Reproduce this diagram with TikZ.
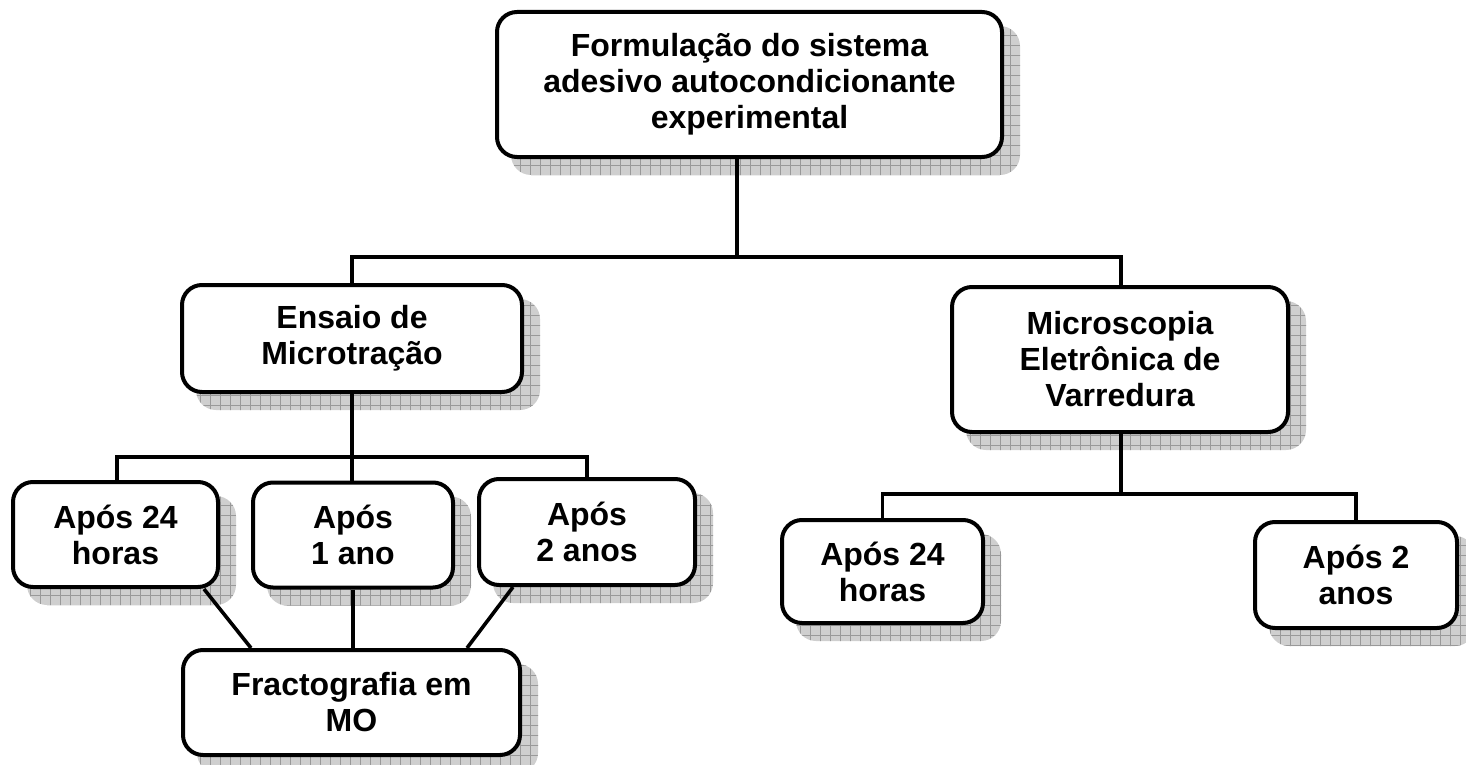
\documentclass[tikz,border=0pt]{standalone}
\usepackage{fontspec}
\setmainfont{Liberation Sans}
\usetikzlibrary{patterns.meta,backgrounds}
\begin{document}
\begin{tikzpicture}[x=0.5pt,y=-0.5pt,
  box/.style={draw, line width=2pt, rounded corners=10pt, fill=white, align=center,
    font=\fontsize{16}{18}\selectfont\bfseries, inner sep=0pt},
  shad/.style={rounded corners=10pt, fill=gray!38,
    postaction={pattern={Lines[distance=5pt,angle=0,line width=0.3pt]}, pattern color=gray!80},
    postaction={pattern={Lines[distance=5pt,angle=90,line width=0.3pt]}, pattern color=gray!80}},
  conn/.style={line width=1.8pt}]
\useasboundingbox (0,0) rectangle (1466,765);
% boxes
\node[box, minimum width=252.5pt, minimum height=72.5pt] (top) at (749.5,84.5)
  {Formulação do sistema\\adesivo autocondicionante\\experimental};
\node[box, minimum width=170pt, minimum height=53.5pt] (ens) at (352,338.5)
  {Ensaio de\\Microtração};
\node[box, minimum width=168pt, minimum height=72.5pt] (mev) at (1120,359.5)
  {Microscopia\\Eletrônica de\\Varredura};
\node[box, minimum width=102.5pt, minimum height=52.5pt] (a24) at (115.5,534.5)
  {Após 24\\horas};
\node[box, minimum width=100pt, minimum height=52.5pt] (a1) at (353,535)
  {Após\\1 ano};
\node[box, minimum width=108pt, minimum height=53pt] (a2) at (587,532)
  {Após\\2 anos};
\node[box, minimum width=168.5pt, minimum height=52.5pt] (fr) at (351.5,702.5)
  {Fractografia em\\MO};
\node[box, minimum width=100.5pt, minimum height=51.5pt] (b24) at (882.5,571.5)
  {Após 24\\horas};
\node[box, minimum width=101pt, minimum height=53pt] (b2) at (1356,575)
  {Após 2\\anos};
% shadows
\begin{scope}[on background layer]
\foreach \n in {top,ens,mev,a24,a1,a2,fr,b24,b2}{
  \path[shad] ([shift={(16,16)}]\n.south west) rectangle ([shift={(16,16)}]\n.north east);
}
\end{scope}
% junction coordinates
\coordinate (j1) at (737,257);
\coordinate (jr) at (1121,257);
\coordinate (j2) at (352,457);
\coordinate (j2l) at (117,457);
\coordinate (j2r) at (587,457);
\coordinate (j3) at (1121,494);
% connectors
\draw[conn] (top.south -| j1) -- (j1);
\draw[conn] (ens.north) |- (jr) -- (mev.north -| jr);
\draw[conn] (ens.south) -- (j2);
\draw[conn] (a24.north -| j2l) |- (j2r) -- (a2.north);
\draw[conn] (j2) -- (a1.north -| j2);
\draw[conn] (mev.south -| j3) -- (j3);
\draw[conn] (b24.north) |- (b2.north |- j3) -- (b2.north);
\draw[conn] ([shift={(-16,0)}]a24.south east) -- ([shift={(70,0)}]fr.north west);
\draw[conn] (a1.south) -- (a1.south |- fr.north);
\draw[conn] ([shift={(36,0)}]a2.south west) -- ([shift={(-55,0)}]fr.north east);
\end{tikzpicture}
\end{document}
